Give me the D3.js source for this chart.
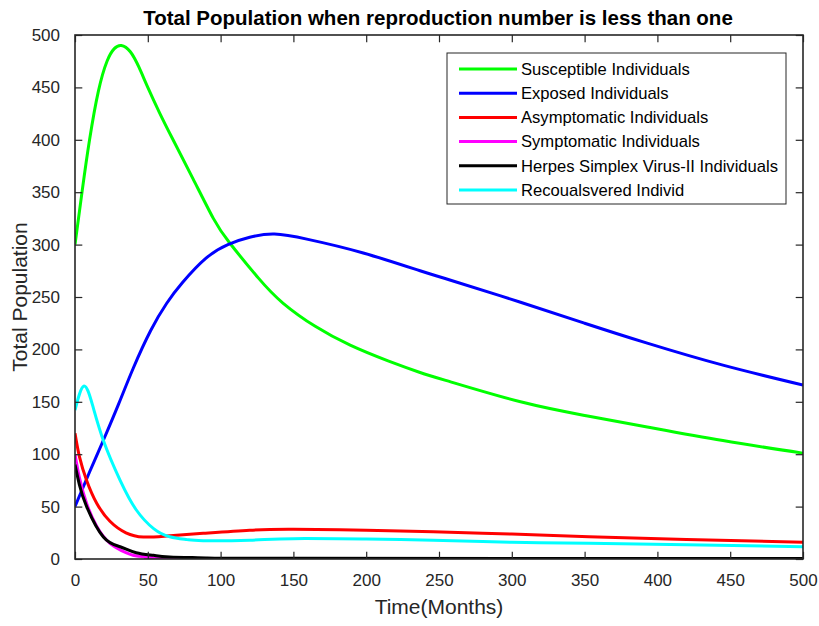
<!DOCTYPE html>
<html>
<head>
<meta charset="utf-8">
<script src="https://cdn.jsdelivr.net/npm/d3@7"></script>
<style>
  html, body { margin: 0; padding: 0; background: #fff; }
  svg { display: block; font-family: "Liberation Sans", Arial, Helvetica, sans-serif; }
</style>
</head>
<body>
<svg id="chart" width="819" height="626"></svg>
<script>
// Compartment trajectories (months, individuals)
const susceptibleT = [0, 5, 10, 16, 22, 27, 31.8, 38, 44, 50, 58, 67, 81, 95, 106, 126, 143, 165, 189, 215, 237, 258, 306, 350, 393, 445, 500];
const susceptibleV = [300, 352, 400, 446, 475, 487, 490, 484, 469, 450, 426, 401, 363, 325, 302, 268, 244, 222, 204, 189, 178, 169, 150, 137, 126, 113, 101];

const exposedT = [0, 10, 20, 30, 40, 52, 63, 74, 90, 105, 120, 137, 160, 198, 237, 258, 306, 350, 393, 445, 500];
const exposedV = [50, 83, 115, 148, 182, 218, 244, 264, 287, 300, 307, 310, 305, 292, 275, 266, 245, 225, 206, 185, 166];

const asymptomaticT = [0, 3, 8, 15, 24, 35, 47, 63, 88, 120, 150, 200, 246, 300, 353, 420, 500];
const asymptomaticV = [120, 98, 75, 53, 36, 25, 21, 22, 24.5, 27.5, 28.3, 27.5, 26, 23.8, 21.3, 18.5, 16];

const symptomaticT = [0, 3, 8, 15, 24, 35, 49, 65, 90, 500];
const symptomaticV = [100, 78, 53, 31, 15, 6, 2.2, 0.7, 0.2, 0];

const herpesT = [0, 3, 8, 19.5, 31, 42, 54, 65, 90, 150, 500];
const herpesV = [90, 71, 50, 21, 11.7, 6, 3.5, 2, 1, 0.6, 0.5];

const recoveredT = [0, 6, 12, 19.5, 31, 42, 54, 65, 77, 88, 120, 150, 200, 246, 300, 353, 420, 500];
const recoveredV = [142, 165, 147, 113, 75, 47, 29, 21.3, 18.5, 17.5, 18, 19.4, 19, 18, 16, 15, 13.5, 11.8];

const seriesNames = [
  "Susceptible Individuals",
  "Exposed Individuals",
  "Asymptomatic Individuals",
  "Symptomatic Individuals",
  "Herpes Simplex Virus-II Individuals",
  "Recoualsvered Individ"
];
const seriesColors = ["#00ff00", "#0000ff", "#ff0000", "#ff00ff", "#000000", "#00ffff"];

const xTicks = [0, 50, 100, 150, 200, 250, 300, 350, 400, 450, 500];
const yTicks = [0, 50, 100, 150, 200, 250, 300, 350, 400, 450, 500];

const titleText = "Total Population when reproduction number is less than one";
const xLabelText = "Time(Months)";
const yLabelText = "Total Population";

// ---- layout ----
const margin = { left: 75, top: 35, right: 16, bottom: 67 };
const W = 819, H = 626;
const plotW = W - margin.left - margin.right;
const plotH = H - margin.top - margin.bottom;
const axisColor = "#262626";

const svg = d3.select("#chart");
const g = svg.append("g").attr("transform", `translate(${margin.left},${margin.top})`);

const x = d3.scaleLinear().domain([0, 500]).range([0, plotW]);
const y = d3.scaleLinear().domain([0, 500]).range([plotH, 0]);

const tickLen = 7.3;

// clip lines to plotting box
svg.append("defs").append("clipPath").attr("id", "plotClip")
  .append("rect").attr("x", 0).attr("y", -2).attr("width", plotW).attr("height", plotH + 2);

const series = [
  [susceptibleT, susceptibleV],
  [exposedT, exposedV],
  [asymptomaticT, asymptomaticV],
  [symptomaticT, symptomaticV],
  [herpesT, herpesV],
  [recoveredT, recoveredV]
].map(([ts, vs], i) => ({
  name: seriesNames[i],
  color: seriesColors[i],
  points: ts.map((t, j) => [t, vs[j]])
}));

const line = d3.line()
  .x(d => x(d[0]))
  .y(d => y(d[1]))
  .curve(d3.curveNatural);

const lines = g.append("g").attr("clip-path", "url(#plotClip)");
series.forEach(s => {
  lines.append("path")
    .attr("d", line(s.points))
    .attr("fill", "none")
    .attr("stroke", s.color)
    .attr("stroke-width", 3)
    .attr("stroke-linejoin", "round");
});

// ---- axes (box with inward ticks on all sides) ----
function styleAxis(sel) {
  sel.select(".domain").remove();
  sel.selectAll(".tick line").attr("stroke", axisColor).attr("stroke-width", 1.2);
  sel.selectAll(".tick text")
    .attr("fill", axisColor)
    .style("font-size", "17px")
    .style("font-family", '"Liberation Sans", Arial, sans-serif');
}

const xAxisB = d3.axisBottom(x).tickValues(xTicks).tickFormat(d3.format("d"))
  .tickSizeInner(-tickLen).tickSizeOuter(0).tickPadding(15);
g.append("g").attr("transform", `translate(0,${plotH})`).call(xAxisB).call(styleAxis);

const xAxisT = d3.axisTop(x).tickValues(xTicks).tickFormat("")
  .tickSizeInner(-tickLen).tickSizeOuter(0);
g.append("g").call(xAxisT).call(styleAxis);

const yAxisL = d3.axisLeft(y).tickValues(yTicks).tickFormat(d3.format("d"))
  .tickSizeInner(-tickLen).tickSizeOuter(0).tickPadding(15);
g.append("g").call(yAxisL).call(styleAxis);

const yAxisR = d3.axisRight(y).tickValues(yTicks).tickFormat("")
  .tickSizeInner(-tickLen).tickSizeOuter(0);
g.append("g").attr("transform", `translate(${plotW},0)`).call(yAxisR).call(styleAxis);

g.append("rect")
  .attr("x", 0).attr("y", 0).attr("width", plotW).attr("height", plotH)
  .attr("fill", "none").attr("stroke", axisColor).attr("stroke-width", 1.6);

// ---- labels ----
svg.append("text")
  .attr("x", margin.left + plotW / 2 - 1).attr("y", 25)
  .attr("text-anchor", "middle")
  .attr("fill", "#000")
  .style("font-size", "20.5px").style("font-weight", "bold")
  .text(titleText);

svg.append("text")
  .attr("x", margin.left + plotW / 2).attr("y", 614)
  .attr("text-anchor", "middle")
  .attr("fill", axisColor)
  .style("font-size", "21px")
  .text(xLabelText);

svg.append("text")
  .attr("transform", `translate(27,${margin.top + plotH / 2}) rotate(-90)`)
  .attr("text-anchor", "middle")
  .attr("fill", axisColor)
  .style("font-size", "21px")
  .text(yLabelText);

// ---- legend ----
const legend = svg.append("g").attr("transform", "translate(447,53)");
legend.append("rect")
  .attr("x", 0).attr("y", 0).attr("width", 339).attr("height", 151)
  .attr("fill", "#fff").attr("stroke", axisColor).attr("stroke-width", 1);

const rowGap = 24.2;
series.forEach((s, i) => {
  const ry = 16 + i * rowGap;
  legend.append("line")
    .attr("x1", 12).attr("x2", 70).attr("y1", ry).attr("y2", ry)
    .attr("stroke", s.color).attr("stroke-width", 3);
  legend.append("text")
    .attr("x", 74).attr("y", ry)
    .attr("dy", "0.35em")
    .attr("fill", "#000")
    .style("font-size", "16.6px")
    .text(s.name);
});
</script>
</body>
</html>
